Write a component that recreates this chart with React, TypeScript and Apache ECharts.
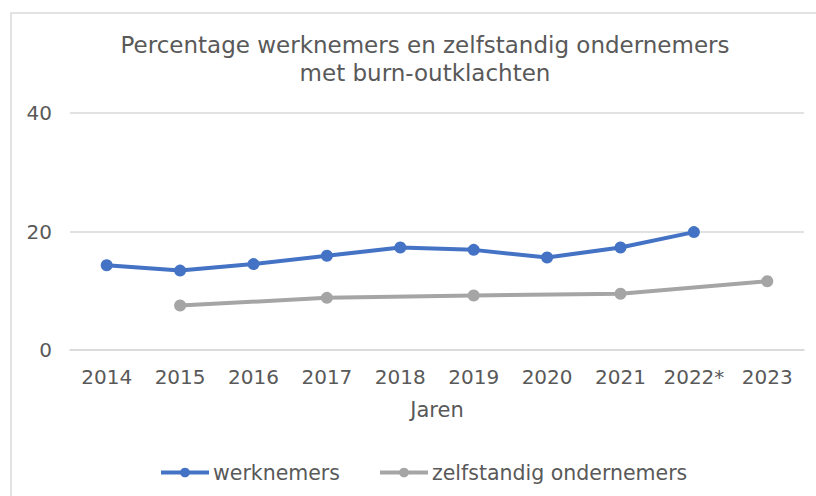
import React, { useEffect, useRef } from "react";
import * as echarts from "echarts";

const years = ["2014", "2015", "2016", "2017", "2018", "2019", "2020", "2021", "2022*", "2023"];
const werknemers = [14.3, 13.4, 14.5, 15.9, 17.3, 16.9, 15.6, 17.3, 19.9, null];
const zelfstandig = [null, 7.5, null, 8.8, null, 9.2, null, 9.5, null, 11.6];
const yTicks = [0, 20, 40];

const FONT = "DejaVu Sans";
const TEXT = "#595959";

export default function App() {
  const ref = useRef<HTMLDivElement>(null);
  useEffect(() => {
    document.body.style.margin = "0";
    const chart = echarts.init(ref.current!, null, { renderer: "svg" });
    chart.setOption({
      animation: false,
      backgroundColor: "#ffffff",
      textStyle: { fontFamily: FONT },
      graphic: [
        {
          type: "rect",
          shape: { x: 11, y: 13, width: 820, height: 500 },
          style: { fill: "none", stroke: "#D9D9D9", lineWidth: 1.5 },
          silent: true,
        },
      ],
      title: {
        text: "Percentage werknemers en zelfstandig ondernemers\nmet burn-outklachten",
        left: 420,
        textAlign: "center",
        top: 26,
        textStyle: { fontFamily: FONT, fontSize: 23, fontWeight: "normal", color: TEXT, lineHeight: 28 },
      },
      grid: { left: 70, right: 12, top: 113, bottom: 146 },
      xAxis: {
        type: "category",
        data: years,
        boundaryGap: true,
        axisLine: { show: true, lineStyle: { color: "#D9D9D9", width: 1.5 } },
        axisTick: { show: false },
        axisLabel: { color: TEXT, fontSize: 20, fontFamily: FONT, margin: 17, interval: 0 },
        name: "Jaren",
        nameLocation: "middle",
        nameGap: 49,
        nameTextStyle: { color: TEXT, fontSize: 21, fontFamily: FONT },
      },
      yAxis: {
        type: "value",
        min: yTicks[0],
        max: yTicks[yTicks.length - 1],
        interval: 20,
        axisLine: { show: false },
        axisTick: { show: false },
        axisLabel: { color: TEXT, fontSize: 20, fontFamily: FONT, margin: 18 },
        splitLine: { lineStyle: { color: "#D9D9D9", width: 1.5 } },
      },
      legend: {
        top: 462,
        left: 159,
        padding: 0,
        itemWidth: 48,
        itemHeight: 12,
        itemGap: 38,
        lineStyle: { width: 4 },
        textStyle: { color: TEXT, fontSize: 20.5, fontFamily: FONT, padding: [0, 0, 0, -1] },
        data: ["werknemers", "zelfstandig ondernemers"],
      },
      series: [
        {
          name: "werknemers",
          type: "line",
          data: werknemers,
          color: "#4472C4",
          symbol: "circle",
          symbolSize: 12,
          lineStyle: { width: 4, color: "#4472C4" },
          itemStyle: { color: "#4472C4" },
        },
        {
          name: "zelfstandig ondernemers",
          type: "line",
          data: zelfstandig,
          connectNulls: true,
          color: "#A5A5A5",
          symbol: "circle",
          symbolSize: 12,
          lineStyle: { width: 4, color: "#A5A5A5" },
          itemStyle: { color: "#A5A5A5" },
        },
      ],
    });
    return () => chart.dispose();
  }, []);
  return <div ref={ref} style={{ width: 816, height: 496 }} />;
}
